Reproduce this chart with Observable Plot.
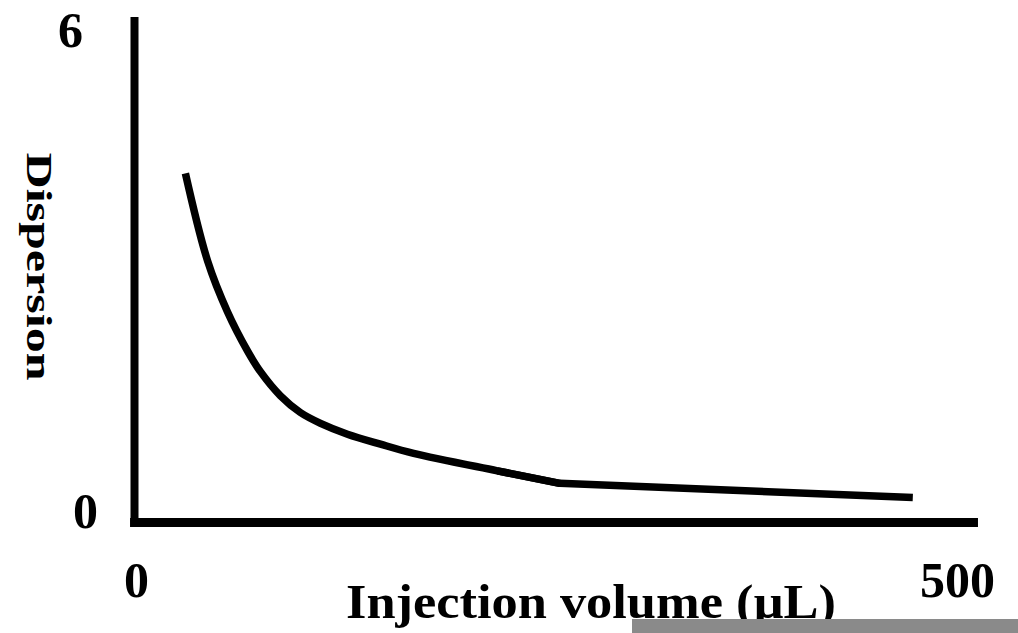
<!DOCTYPE html>
<html>
<head>
<meta charset="utf-8">
<script src="https://cdn.jsdelivr.net/npm/d3@7"></script>
<script src="https://cdn.jsdelivr.net/npm/@observablehq/plot@0.6"></script>
<style>
  html, body { margin: 0; padding: 0; background: #fff; }
  #wrap { position: relative; width: 1018px; height: 633px; overflow: hidden; }
  #bar { position: absolute; left: 632px; top: 619px; width: 386px; height: 14px; background: #8a8a8a; }
</style>
</head>
<body>
<div id="wrap"></div>
<script>
// Data
const volume = [31, 44.5, 56.6, 68.8, 76.7, 88.9, 101, 113.3, 129.7, 149.8, 170, 221, 259, 474];
const dispersion = [4.19, 3.14, 2.53, 2.06, 1.81, 1.52, 1.32, 1.19, 1.06, 0.94, 0.83, 0.62, 0.47, 0.30];
const xTicks = [0, 500];
const yTicks = [0, 6];
const xLabel = "Injection volume (\u00b5L)";
const yLabel = "Dispersion";
const kneeVolume = 259; // where the curve turns into a straight run

const data = volume.map((v, i) => ({volume: v, dispersion: dispersion[i]}));
const kneeIndex = data.findIndex(d => d.volume === kneeVolume);
const curvedPart = data.slice(0, kneeIndex + 1);
const straightPart = data.slice(kneeIndex - 1);

const font = "'Liberation Serif', 'Times New Roman', serif";

const chart = Plot.plot({
  width: 1018,
  height: 633,
  margin: 0,
  style: {fontFamily: font, background: "#fff", color: "#000"},
  x: {domain: [0, 500], range: [134, 955], axis: null},
  y: {domain: [0, 6], range: [522, 22], axis: null},
  marks: [
    // axis lines
    Plot.ruleX([0], {y1: -0.06, y2: 6.06, stroke: "#000", strokeWidth: 8}),
    Plot.ruleY([0], {x1: -2.4, x2: 514, stroke: "#000", strokeWidth: 9}),
    // curve
    Plot.line(curvedPart, {x: "volume", y: "dispersion", stroke: "#000", strokeWidth: 7.5, curve: "catmull-rom", strokeLinecap: "butt"}),
    Plot.line(straightPart, {x: "volume", y: "dispersion", stroke: "#000", strokeWidth: 7.5, curve: "linear", strokeLinecap: "butt"}),
    // y tick labels
    Plot.text([yTicks[yTicks.length - 1]], {x: 0, y: d => d, text: d => String(d), fontSize: 50, fontWeight: "bold", dx: -64, dy: 8, textAnchor: "middle", fill: "#000"}),
    Plot.text([yTicks[0]], {x: 0, y: d => d, text: d => String(d), fontSize: 50, fontWeight: "bold", dx: -49, dy: -11, textAnchor: "middle", fill: "#000"}),
    // x tick labels
    Plot.text(xTicks, {x: d => d, y: 0, text: d => String(d), fontSize: 50, fontWeight: "bold", dx: 2, dy: 58, textAnchor: "middle", fill: "#000"}),
    // x axis label
    Plot.text([xLabel], {x: 250, y: 0, text: d => d, fontSize: 48, fontWeight: "bold", dx: 46, dy: 80, textAnchor: "middle", fill: "#000"}),
    // y axis label
    Plot.text([yLabel], {x: 0, y: 3, text: d => d, fontSize: 36, fontWeight: "bold", dx: -96, dy: -6, rotate: 90, textAnchor: "middle", fill: "#000"})
  ]
});

// stretch labels to the reference's measured lengths
chart.querySelectorAll("text").forEach(t => {
  if (t.textContent === xLabel) { t.setAttribute("textLength", 490); t.setAttribute("lengthAdjust", "spacingAndGlyphs"); }
  if (t.textContent === yLabel) { t.setAttribute("textLength", 228); t.setAttribute("lengthAdjust", "spacingAndGlyphs"); }
});

const wrap = document.getElementById("wrap");
wrap.appendChild(chart);
const bar = document.createElement("div");
bar.id = "bar";
wrap.appendChild(bar);
</script>
</body>
</html>
